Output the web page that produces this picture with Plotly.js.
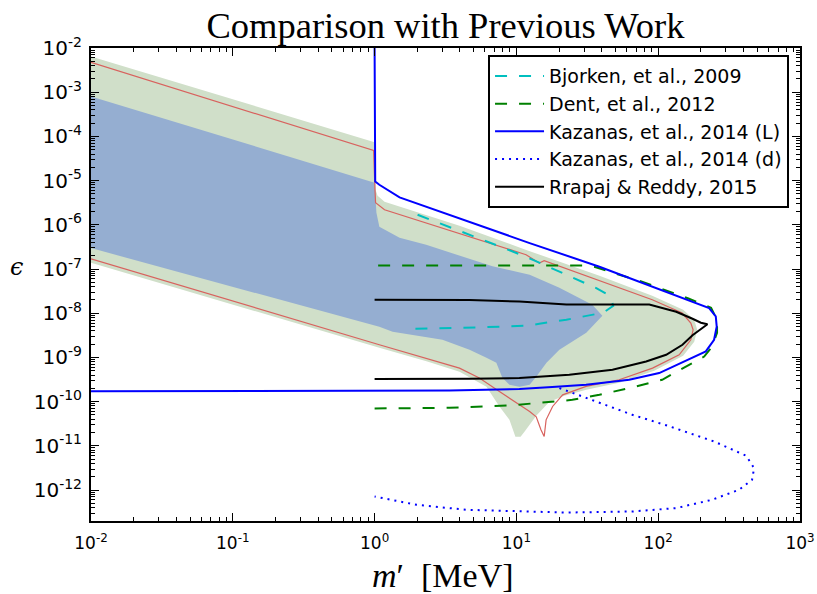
<!DOCTYPE html>
<html>
<head>
<meta charset="utf-8">
<script src="https://cdn.plot.ly/plotly-3.0.1.min.js"></script>
<style>html,body{margin:0;padding:0;background:#fff;}#plot{width:817px;height:594px;}</style>
</head>
<body>
<div id="plot"></div>
<script>
// ---- Shaded regions (this work) ----
const greenX = [0.01, 0.984, 1.0, 1.016, 1.05, 1.175, 3.97, 11.6, 38.5, 90.8, 150, 179.5, 188.4, 179.5, 150, 93.8, 53.1, 31.1, 21.8, 17.1, 13.8, 11.4, 10.7, 9.84, 8.93, 7.59, 6.15, 3.97, 2.32, 1.08, 0.01];
const greenY = [6.45e-3, 7.46e-5, 7.4e-5, 6.2e-6, 4.55e-6, 3.33e-6, 9.55e-7, 2.74e-7, 7.05e-8, 2.49e-8, 1.2e-8, 7.13e-9, 4.24e-9, 2.26e-9, 1.09e-9, 5.0e-10, 2.68e-10, 1.86e-10, 1.36e-10, 9.95e-11, 4.8e-11, 2.08e-11, 1.6e-11, 1.6e-11, 3.89e-11, 7.78e-11, 2.17e-10, 4.74e-10, 8.2e-10, 1.66e-9, 1.39e-7];

const blueX = [0.01, 0.984, 1.0, 1.03, 1.08, 1.50, 2.31, 6.78, 12.4, 20.1, 34.3, 40.4, 31.1, 20.1, 16.3, 13.8, 12.4, 10.5, 8.93, 7.96, 7.22, 6.15, 4.67, 3.01, 1.34, 1.08, 0.01];
const blueY = [8.03e-4, 9.1e-6, 9.0e-6, 1.88e-6, 9.06e-7, 5.1e-7, 3.55e-7, 1.15e-7, 7.43e-8, 3.78e-8, 1.56e-8, 8.77e-9, 3.62e-9, 1.49e-9, 7.59e-10, 3.66e-10, 2.41e-10, 2.17e-10, 2.41e-10, 3.47e-10, 7.59e-10, 9.84e-10, 1.49e-9, 2.51e-9, 3.81e-9, 4.94e-9, 2.98e-7];

const redX = [0.01, 0.984, 1.008, 1.016, 1.175, 11.7, 14.5, 15.7, 90.8, 147.6, 169.8, 176.3, 169.8, 140.6, 91.2, 53.1, 31.0, 21.2, 18.0, 16.2, 15.7, 14.9, 13.8, 12.4, 7.59, 5.48, 3.97, 2.31, 1.08, 0.01];
const redY = [4.72e-3, 4.82e-5, 5.6e-6, 3.16e-6, 2.2e-6, 2.11e-7, 1.37e-7, 1.54e-7, 2.02e-8, 1.01e-8, 6.0e-9, 4.23e-9, 2.51e-9, 1.15e-9, 5.75e-10, 3.13e-10, 2.21e-10, 1.43e-10, 7.79e-11, 3.89e-11, 1.63e-11, 2.31e-11, 4.55e-11, 6.0e-11, 1.70e-10, 3.42e-10, 5.75e-10, 9.69e-10, 1.94e-9, 1.71e-7];

// ---- Previous work ----
const bjorkenX = [2.01, 3.66, 7.96, 11.8, 20.8, 30.1, 36.6, 43.0, 46.7, 48.2, 41.0, 32.7, 22.5, 14.5, 11.9, 5.31, 1.91];
const bjorkenY = [1.69e-6, 8.17e-7, 3.08e-7, 1.87e-7, 8.13e-8, 4.9e-8, 3.72e-8, 2.76e-8, 2.02e-8, 1.48e-8, 1.03e-8, 9.01e-9, 7.13e-9, 5.79e-9, 5.22e-9, 4.78e-9, 4.46e-9];

const dentX = [1.0, 3.37, 9.69, 14.5, 24.8, 38.5, 62.5, 106.7, 157.4, 210.9, 240, 260, 260, 236, 165, 106.7, 73.5, 50.6, 35.4, 30.6, 1.0];
const dentY = [7.02e-11, 7.28e-11, 8.38e-11, 9.3e-11, 1.1e-10, 1.43e-10, 2.03e-10, 3.13e-10, 6.16e-10, 1.05e-9, 1.77e-9, 3.62e-9, 7.13e-9, 1.33e-8, 2.13e-8, 3.58e-8, 5.43e-8, 7.83e-8, 1.13e-7, 1.21e-7, 1.21e-7];

const kazLX = [1.0, 1.01, 1.08, 1.50, 12.4, 38.5, 228.6, 254.7, 258.6, 247.8, 216.6, 156.7, 101.6, 62.5, 31.0, 17.9, 10.5, 3.37, 0.01];
const kazLY = [1e-2, 9.6e-6, 8.07e-6, 4.17e-6, 3.87e-7, 1.13e-7, 1.31e-8, 8.47e-9, 5.0e-9, 2.51e-9, 1.37e-9, 8.4e-10, 4.44e-10, 3.13e-10, 2.41e-10, 2.14e-10, 1.93e-10, 1.79e-10, 1.72e-10];

const kazDX = [20.1, 26.9, 38.5, 65.6, 113.8, 247.8, 416.9, 474.5, 459, 371.7, 240, 134, 65.6, 22.5, 4.45, 1.98, 1.0];
const kazDY = [2.03e-10, 1.43e-10, 9.29e-11, 5.06e-11, 2.93e-11, 1.26e-11, 5.98e-12, 3.15e-12, 1.71e-12, 1.02e-12, 6.04e-13, 3.92e-13, 3.28e-13, 3.11e-13, 3.58e-13, 4.64e-13, 7.16e-13];

const rrapajX = [1.0, 4.67, 10.5, 22.5, 86.5, 134, 174.6, 200, 222.5, 194.5, 174.6, 148.3, 113.8, 82.2, 47.6, 23.6, 10.5, 4.67, 1.0];
const rrapajY = [2.02e-8, 1.99e-8, 1.85e-8, 1.58e-8, 1.58e-8, 1.08e-8, 7.52e-9, 6.1e-9, 5.64e-9, 4.12e-9, 3.18e-9, 1.94e-9, 1.15e-9, 8.12e-10, 5.27e-10, 4.06e-10, 3.42e-10, 3.3e-10, 3.24e-10];

const legendNames = ['Bjorken, et al., 2009', 'Dent, et al., 2012', 'Kazanas, et al., 2014 (L)', 'Kazanas, et al., 2014 (d)', 'Rrapaj &amp; Reddy, 2015'];

const xTickVals = [1e-2, 1e-1, 1e0, 1e1, 1e2, 1e3];
const xTickText = ['10<sup>-2</sup>', '10<sup>-1</sup>', '10<sup>0</sup>', '10<sup>1</sup>', '10<sup>2</sup>', '10<sup>3</sup>'];
const yTickVals = [1e-12, 1e-11, 1e-10, 1e-9, 1e-8, 1e-7, 1e-6, 1e-5, 1e-4, 1e-3, 1e-2];
const yTickText = ['10<sup>-12</sup>', '10<sup>-11</sup>', '10<sup>-10</sup>', '10<sup>-9</sup>', '10<sup>-8</sup>', '10<sup>-7</sup>', '10<sup>-6</sup>', '10<sup>-5</sup>', '10<sup>-4</sup>', '10<sup>-3</sup>', '10<sup>-2</sup>'];

function minorVals(lo, hi) {
  const v = [];
  for (let e = lo; e < hi; e++) for (let k = 2; k <= 9; k++) v.push(k * Math.pow(10, e));
  return v;
}

const traces = [
  {x: greenX, y: greenY, mode: 'lines', fill: 'toself', fillcolor: '#d0dfc9', line: {width: 0, color: 'rgba(0,0,0,0)'}, showlegend: false, hoverinfo: 'skip'},
  {x: blueX, y: blueY, mode: 'lines', fill: 'toself', fillcolor: '#95aed1', line: {width: 0, color: 'rgba(0,0,0,0)'}, showlegend: false, hoverinfo: 'skip'},
  {x: redX, y: redY, mode: 'lines', line: {width: 1.2, color: '#d8625e'}, showlegend: false},
  {x: bjorkenX, y: bjorkenY, mode: 'lines', name: legendNames[0], legendgroup: 'a', line: {width: 2, color: '#00bfbf', dash: '12px,12px'}},
  {x: dentX, y: dentY, mode: 'lines', name: legendNames[1], legendgroup: 'b', line: {width: 2, color: '#008000', dash: '12px,12px'}},
  {x: kazLX, y: kazLY, mode: 'lines', name: legendNames[2], legendgroup: 'c', line: {width: 2, color: '#0000ff'}},
  {x: kazDX, y: kazDY, mode: 'lines', name: legendNames[3], legendgroup: 'd', line: {width: 2, color: '#0000ff', dash: '2px,5px'}},
  {x: rrapajX, y: rrapajY, mode: 'lines', name: legendNames[4], legendgroup: 'e', line: {width: 2, color: '#000000'}}
];

const axisCommon = {
  type: 'log', showgrid: false, zeroline: false, showline: true, linecolor: '#000', linewidth: 2,
  mirror: 'allticks', ticks: 'inside', ticklen: 8, tickwidth: 1, tickcolor: '#000',
  tickmode: 'array'
};

const layout = {
  width: 817, height: 594,
  margin: {l: 91, r: 17, t: 48, b: 73},
  paper_bgcolor: '#fff', plot_bgcolor: '#fff',
  title: {text: 'Comparison with Previous Work', font: {family: 'Liberation Serif', size: 36.5, color: '#000'}, x: 0.5, xref: 'paper', xanchor: 'center', y: 0.958, yref: 'container', yanchor: 'middle'},
  xaxis: Object.assign({}, axisCommon, {range: [-2, 3], tickvals: xTickVals, ticktext: xTickText, ticklabelstandoff: 6,
    tickfont: {family: 'DejaVu Sans', size: 17, color: '#000'},
    minor: {tickmode: 'array', tickvals: minorVals(-2, 3), ticks: 'inside', ticklen: 4, tickwidth: 1, tickcolor: '#000', showgrid: false}}),
  yaxis: Object.assign({}, axisCommon, {range: [Math.log10(2e-13), -2], tickvals: yTickVals, ticktext: yTickText, ticklabelstandoff: 3,
    tickfont: {family: 'DejaVu Sans', size: 20, color: '#000'},
    minor: {tickmode: 'array', tickvals: minorVals(-13, -2), ticks: 'inside', ticklen: 4, tickwidth: 1, tickcolor: '#000', showgrid: false}}),
  legend: {x: 0.560, y: 0.985, xanchor: 'left', yanchor: 'top', bgcolor: '#fff', bordercolor: '#000', borderwidth: 2,
    font: {family: 'DejaVu Sans', size: 19, color: '#000'}, tracegroupgap: 0, itemwidth: 49},
  annotations: [
    {text: '<i>m</i>′  [MeV]', xref: 'paper', yref: 'paper', x: 0.497, y: -0.115, xanchor: 'center', yanchor: 'middle', showarrow: false, font: {family: 'Liberation Serif', size: 34, color: '#000'}},
    {text: '<i>ϵ</i>', xref: 'paper', yref: 'paper', x: -0.105, y: 0.537, xanchor: 'center', yanchor: 'middle', showarrow: false, font: {family: 'DejaVu Serif', size: 24, color: '#000'}}
  ],
  showlegend: true
};

Plotly.newPlot('plot', traces, layout, {staticPlot: true, displayModeBar: false});
</script>
</body>
</html>
